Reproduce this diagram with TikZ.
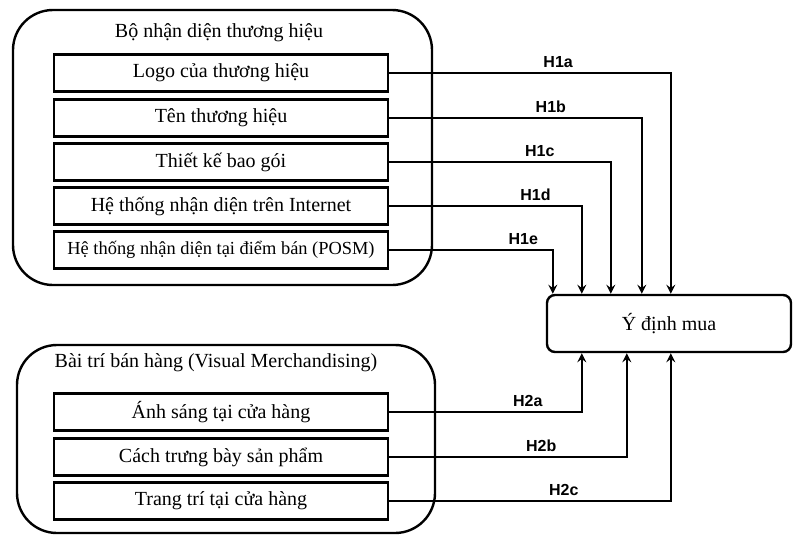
\documentclass[tikz,border=0pt]{standalone}
\usepackage{fontspec}
\setmainfont{Liberation Serif}
\newfontfamily\hypfont{Liberation Sans}
\begin{document}
\begin{tikzpicture}[>=stealth, x=5pt, y=-5pt,
    item/.style={draw, line width=1.1pt, minimum width=167pt, minimum height=18.5pt, inner sep=0pt, font=\fontsize{10}{12}\selectfont},
    hyp/.style={above, inner sep=2pt, font=\hypfont\bfseries\fontsize{8}{9}\selectfont},
    link/.style={->, line width=1pt}]
    \useasboundingbox (0,0) rectangle (79.3,53.6);

    % Group frames
    \draw[line width=1.2pt, rounded corners=20pt] (1.3,1.0) rectangle (43.2,28.5);
    \draw[line width=1.2pt, rounded corners=20pt] (1.7,34.5) rectangle (43.5,53.3);
    \node[font=\fontsize{10}{12}\selectfont] (brand) at (21.9,3.3) {Bộ nhận diện thương hiệu};
    \node[font=\fontsize{10}{12}\selectfont] (visual) at (21.6,36.3) {Bài trí bán hàng (Visual Merchandising)};

    % Brand identity items
    \node[item] (logo) at (22.1,7.3) {Logo của thương hiệu};
    \node[item] (name) at (22.1,11.8) {Tên thương hiệu};
    \node[item] (pack) at (22.1,16.2) {Thiết kế bao gói};
    \node[item] (web) at (22.1,20.6) {Hệ thống nhận diện trên Internet};
    \node[item, font=\fontsize{9.2}{11}\selectfont] (posm) at (22.1,25.0) {Hệ thống nhận diện tại điểm bán (POSM)};

    % Visual merchandising items
    \node[item] (light) at (22.1,41.2) {Ánh sáng tại cửa hàng};
    \node[item] (display) at (22.1,45.7) {Cách trưng bày sản phẩm};
    \node[item] (decor) at (22.1,50.1) {Trang trí tại cửa hàng};

    % Purchase intention
    \node[draw, line width=1.2pt, rounded corners=4pt, minimum width=122pt, minimum height=28.5pt,
          font=\fontsize{10}{12}\selectfont] (intent) at (66.9,32.35) {Ý định mua};

    % Hypotheses H1
    \draw[link] (logo.east) -| ([xshift=62.5pt]intent.north west) node[hyp, pos=0.3] {H1a};
    \draw[link] (name.east) -| ([xshift=48pt]intent.north west) node[hyp, pos=0.32] {H1b};
    \draw[link] (pack.east) -| ([xshift=32.5pt]intent.north west) node[hyp, pos=0.34] {H1c};
    \draw[link] (web.east) -| ([xshift=18pt]intent.north west) node[hyp, pos=0.38] {H1d};
    \draw[link] (posm.east) -| ([xshift=3.5pt]intent.north west) node[hyp, pos=0.41] {H1e};

    % Hypotheses H2
    \draw[link] (light.east) -| ([xshift=18pt]intent.south west) node[hyp, pos=0.36] {H2a};
    \draw[link] (display.east) -| ([xshift=40.5pt]intent.south west) node[hyp, pos=0.32] {H2b};
    \draw[link] (decor.east) -| ([xshift=62.5pt]intent.south west) node[hyp, pos=0.31] {H2c};
\end{tikzpicture}
\end{document}
